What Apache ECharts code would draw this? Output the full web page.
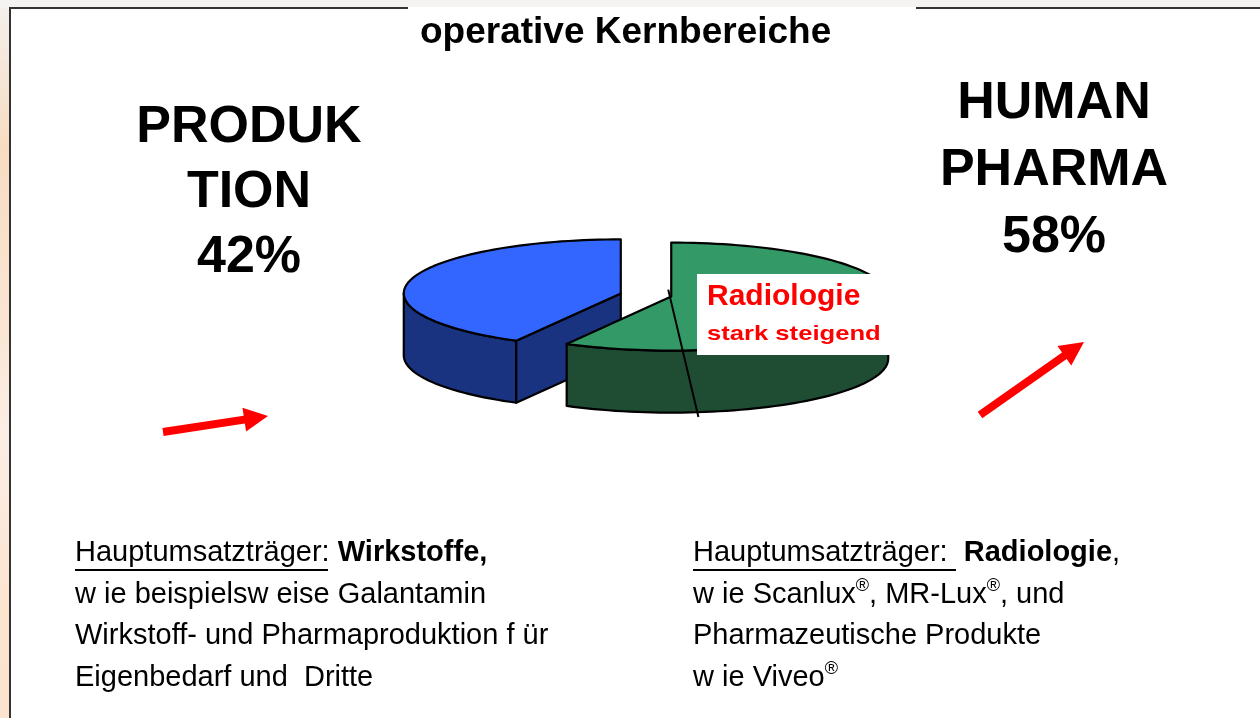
<!DOCTYPE html>
<html>
<head>
<meta charset="utf-8">
<script src="https://cdn.jsdelivr.net/npm/echarts@6/dist/echarts.min.js"></script>
<style>
html,body{margin:0;padding:0;background:#fff;}
#main{width:1260px;height:718px;}
</style>
</head>
<body>
<div id="main"></div>
<script>
// ---- data ----
const categories = ['HUMAN PHARMA', 'PRODUKTION'];
const shares = [58, 42];
const labelLines = [['HUMAN', 'PHARMA'], ['PRODUK', 'TION']];
const titleText = 'operative Kernbereiche';
const calloutLines = ['Radiologie', 'stark steigend'];
const leftNotes = [
  '{u|Hauptumsatzträger}: {b|Wirkstoffe,}',
  'w ie beispielsw eise Galantamin',
  'Wirkstoff- und Pharmaproduktion f ür',
  'Eigenbedarf und  Dritte'
];
const rightNotes = [
  '{u|Hauptumsatzträger:}  {b|Radiologie},',
  'w ie Scanlux{s|®}, MR-Lux{s|®}, und',
  'Pharmazeutische Produkte',
  'w ie Viveo{s|®}'
];

// ---- styles / layout ----
const topColors = ['#339966', '#3366FF'];
const sideColors = ['#1E4D33', '#1A3380'];
const L = {cx: 646, cy: 295, rx: 217, ry: 54, depth: 62, explode: 0.12};
const FONT = '"Liberation Sans", Arial, sans-serif';
const NOTE_SIZE = 29;

const rad = d => d * Math.PI / 180;
const total = shares.reduce((s, v) => s + v, 0);

function renderItem(params, api) {
  const i = params.dataIndex;
  let start = 0;
  for (let k = 0; k < i; k++) start += shares[k] / total * 360;
  const end = start + api.value(0) / total * 360;
  const mid = (start + end) / 2;
  const ox = L.cx + L.explode * L.rx * Math.sin(rad(mid));
  const oy = L.cy - L.explode * L.ry * Math.cos(rad(mid));
  const D = L.depth;
  const P = (a, dz) => [ox + L.rx * Math.sin(rad(a)), oy - L.ry * Math.cos(rad(a)) + (dz || 0)];
  const arc = (a0, a1, dz) => {
    const n = Math.max(2, Math.ceil(Math.abs(a1 - a0) / 2) + 1);
    const pts = [];
    for (let j = 0; j < n; j++) pts.push(P(a0 + (a1 - a0) * j / (n - 1), dz));
    return pts;
  };
  const base = i === 0 ? 20 : 0;
  const lineStyle = {stroke: '#000', lineWidth: 2.2, lineJoin: 'round'};
  const children = [];
  const s0 = Math.max(start, 90), s1 = Math.min(end, 270);
  if (s1 > s0) {
    const pts = arc(s0, s1, 0).concat(arc(s0, s1, D).reverse());
    children.push({type: 'polygon', z2: base + 1, shape: {points: pts},
      style: Object.assign({fill: sideColors[i]}, lineStyle)});
  }
  if (Math.sin(rad(start)) < -0.01) {
    const a = P(start), b = P(start, D);
    children.push({type: 'polygon', z2: base + 2,
      shape: {points: [[ox, oy], a, b, [ox, oy + D]]},
      style: Object.assign({fill: sideColors[i]}, lineStyle)});
  }
  if (Math.sin(rad(end)) > 0.01) {
    const a = P(end), b = P(end, D);
    children.push({type: 'polygon', z2: base + 2,
      shape: {points: [[ox, oy], a, b, [ox, oy + D]]},
      style: Object.assign({fill: sideColors[i]}, lineStyle)});
  }
  children.push({type: 'polygon', z2: base + 3,
    shape: {points: [[ox, oy]].concat(arc(start, end, 0))},
    style: Object.assign({fill: topColors[i]}, lineStyle)});
  if (i === 0) {
    const e = P(172, D);
    children.push({type: 'line', z2: base + 4,
      shape: {x1: ox - 3, y1: oy - 7, x2: e[0] - 3, y2: e[1] + 5},
      style: {stroke: '#000', lineWidth: 2}});
  }
  return {type: 'group', children: children};
}

function arrowPts(x0, y0, x1, y1, sw, hl, hw) {
  const dx = x1 - x0, dy = y1 - y0, len = Math.hypot(dx, dy);
  const ux = dx / len, uy = dy / len, nx = -uy, ny = ux;
  const bx = x1 - ux * hl, by = y1 - uy * hl;
  return [
    [x0 + nx * sw / 2, y0 + ny * sw / 2],
    [bx + nx * sw / 2, by + ny * sw / 2],
    [bx + nx * hw / 2, by + ny * hw / 2],
    [x1, y1],
    [bx - nx * hw / 2, by - ny * hw / 2],
    [bx - nx * sw / 2, by - ny * sw / 2],
    [x0 - nx * sw / 2, y0 - ny * sw / 2]
  ];
}

const noteRich = {
  u: {fontFamily: FONT, fontSize: NOTE_SIZE, color: '#000', lineHeight: 34},
  b: {fontFamily: FONT, fontSize: NOTE_SIZE, fontWeight: 'bold', color: '#000', lineHeight: 34},
  s: {fontFamily: FONT, fontSize: 18, color: '#000', lineHeight: 34, verticalAlign: 'top', padding: [0, 0, 14, 0]}
};
function noteTexts(lines, x, y0, step) {
  return lines.map((t, k) => ({
    type: 'text', x: x, y: y0 + k * step,
    style: {text: t, fontFamily: FONT, fontSize: NOTE_SIZE, fill: '#000', lineHeight: 34,
      verticalAlign: 'middle', rich: noteRich}
  }));
}

function bigLabel(idx, cx, y0, step) {
  const lines = labelLines[idx].concat([shares[idx] + '%']);
  return lines.map((t, k) => ({
    type: 'text', x: cx, y: y0 + k * step,
    style: {text: t, fontFamily: FONT, fontSize: 52, fontWeight: 'bold', fill: '#000',
      align: 'center', verticalAlign: 'middle'}
  }));
}

const graphics = [
  {type: 'rect', shape: {x: 0, y: 0, width: 10, height: 718}, z: -10,
    style: {fill: new echarts.graphic.LinearGradient(0, 0, 0, 1, [
      {offset: 0, color: '#f4f1ee'}, {offset: 0.2, color: '#f7dcc2'},
      {offset: 0.45, color: '#fbe5d3'}, {offset: 0.6, color: '#fbeee6'},
      {offset: 0.85, color: '#fde4cf'}, {offset: 1, color: '#fbe3cf'}])}},
  {type: 'rect', shape: {x: 0, y: 0, width: 1260, height: 7}, z: -10, style: {fill: '#f5f3f1'}},
  {type: 'line', shape: {x1: 10, y1: 8, x2: 10, y2: 718}, style: {stroke: '#333', lineWidth: 2}},
  {type: 'line', shape: {x1: 9, y1: 8, x2: 408, y2: 8}, style: {stroke: '#333', lineWidth: 2}},
  {type: 'line', shape: {x1: 916, y1: 8, x2: 1260, y2: 8}, style: {stroke: '#333', lineWidth: 2}},
  {type: 'text', x: 420, y: 33, style: {text: titleText, fontFamily: FONT, fontSize: 37,
    fontWeight: 'bold', fill: '#000', verticalAlign: 'middle'}},
  {type: 'rect', shape: {x: 697, y: 274, width: 193, height: 81}, z: 10, style: {fill: '#fff'}},
  {type: 'text', x: 707, y: 297, z: 11, style: {text: calloutLines[0], fontFamily: FONT, fontSize: 30,
    fontWeight: 'bold', fill: '#FF0000', verticalAlign: 'middle'}},
  {type: 'text', x: 707, y: 334, z: 11, scaleX: 1.22, originX: 0, originY: 0,
    style: {text: calloutLines[1], fontFamily: FONT, fontSize: 21,
    fontWeight: 'bold', fill: '#FF0000', verticalAlign: 'middle'}},
  {type: 'polygon', shape: {points: arrowPts(163, 432, 268, 416, 8, 24, 24)}, style: {fill: '#FF0000'}},
  {type: 'polygon', shape: {points: arrowPts(980, 415, 1084, 342, 8, 24, 24)}, style: {fill: '#FF0000'}},
  {type: 'line', shape: {x1: 75, y1: 570, x2: 328, y2: 570}, style: {stroke: '#000', lineWidth: 2}},
  {type: 'line', shape: {x1: 693, y1: 570, x2: 956, y2: 570}, style: {stroke: '#000', lineWidth: 2}}
].concat(bigLabel(1, 249, 128, 65))
 .concat(bigLabel(0, 1054, 104, 67))
 .concat(noteTexts(leftNotes, 75, 553, 41.5))
 .concat(noteTexts(rightNotes, 693, 553, 41.5));

const chart = echarts.init(document.getElementById('main'), null, {renderer: 'canvas'});
chart.setOption({
  backgroundColor: '#ffffff',
  animation: false,
  series: [{
    type: 'custom',
    coordinateSystem: 'none',
    renderItem: renderItem,
    data: shares.map((v, k) => ({name: categories[k], value: [v]})),
    silent: true
  }],
  graphic: graphics
});
</script>
</body>
</html>
